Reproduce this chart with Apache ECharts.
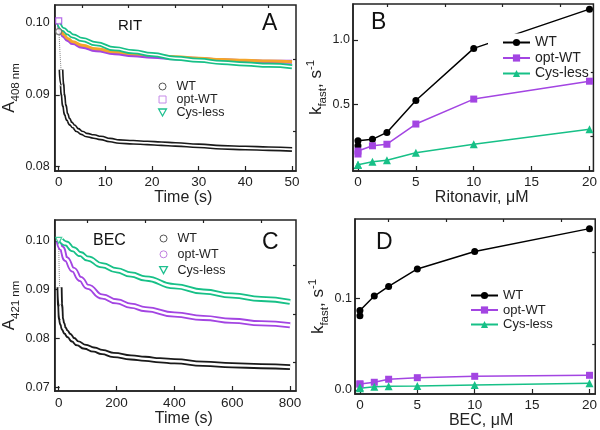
<!DOCTYPE html>
<html><head><meta charset="utf-8">
<script src="https://cdn.jsdelivr.net/npm/echarts@6/dist/echarts.min.js"></script>
<style>html,body{margin:0;padding:0;background:#fff}#c{width:600px;height:430px}</style>
</head><body><div id="c"></div>
<script>
// ---------- Panel A (RIT kinetics) ----------
const A_dot_t = [0, 0.15, 0.35, 0.5];
const A_dot_v = [0.1000, 0.0975, 0.0950, 0.0935];
const A_WT_t = [0.5, 0.7, 0.9, 1.2, 1.6, 2.0, 2.6, 3.2, 4.0, 5.0, 6.0, 7.5, 9.0, 11, 13, 16, 19, 22, 25, 30, 35, 40, 45, 50];
const A_WT_v = [0.0935, 0.0915, 0.0900, 0.0885, 0.0873, 0.0866, 0.0860, 0.0856, 0.0851, 0.0847, 0.0844, 0.0842, 0.0840, 0.0837, 0.0835, 0.0834, 0.0833, 0.0832, 0.0831, 0.0829, 0.0827, 0.0826, 0.0825, 0.0824];
const A_opt_t = [0, 0.5, 1, 2, 3, 5, 8, 12, 16, 20, 25, 30, 35, 40, 45, 50];
const A_opt_v = [0.1000, 0.0987, 0.0982, 0.0976, 0.0972, 0.0967, 0.0962, 0.0958, 0.0955, 0.0953, 0.0951, 0.0950, 0.0948, 0.0947, 0.0946, 0.0946];
const A_org_v = [0.1000, 0.0989, 0.0984, 0.0978, 0.0974, 0.0969, 0.0964, 0.0960, 0.0957, 0.0955, 0.0953, 0.0951, 0.0949, 0.0948, 0.0947, 0.0946];
const A_cys_t = [0, 1, 2, 3, 5, 8, 12, 16, 20, 25, 30, 35, 40, 45, 50];
const A_cys_v = [0.1000, 0.0991, 0.0986, 0.0982, 0.0977, 0.0971, 0.0964, 0.0960, 0.0956, 0.0951, 0.0948, 0.0945, 0.0943, 0.0941, 0.0939];
const A_start_WT = [[0, 0.0988]];
const A_start_opt = [[0, 0.1003]];
const A_x_major = [0, 10, 20, 30, 40, 50];
const A_x_minor = [5, 15, 25, 35, 45];
const A_y_major = [0.08, 0.09, 0.10];
const A_y_minor = [0.085, 0.095];

// ---------- Panel B (Ritonavir) ----------
const B_x = [0, 0, 1.25, 2.5, 5, 10, 20];
const B_WT = [0.178, 0.217, 0.228, 0.282, 0.53, 0.935, 1.24];
const B_opt = [0.114, 0.137, 0.178, 0.19, 0.347, 0.541, 0.68];
const B_cys = [0.031, 0.031, 0.054, 0.065, 0.124, 0.19, 0.306];
const B_x_major = [0, 5, 10, 15, 20];
const B_x_minor = [2.5, 7.5, 12.5, 17.5];
const B_y_labels = [0.5, 1.0];
const B_y_major = [0, 0.5, 1.0];
const B_y_minor = [0.25, 0.75];

// ---------- Panel C (BEC kinetics) ----------
const C_dot_t = [0, 1, 2, 3];
const C_dot_v = [0.1000, 0.0960, 0.0930, 0.0905];
const C_WT_t = [3, 5, 8, 12, 18, 25, 35, 50, 65, 90, 122, 150, 190, 250, 300, 350, 400, 500, 600, 700, 800];
const C_WT_v = [0.0905, 0.0868, 0.0840, 0.0830, 0.0820, 0.0813, 0.0806, 0.0797, 0.0790, 0.0783, 0.0777, 0.0772, 0.0766, 0.0761, 0.0758, 0.0755, 0.0753, 0.0748, 0.0745, 0.0743, 0.0741];
const C_opt_t = [0, 10, 25, 50, 75, 100, 150, 200, 250, 300, 400, 500, 600, 700, 800];
const C_opt_v = [0.1000, 0.0985, 0.0963, 0.0941, 0.0922, 0.0906, 0.0886, 0.0876, 0.0867, 0.0860, 0.0849, 0.0842, 0.0836, 0.0831, 0.0827];
const C_cys_t = [8, 25, 50, 75, 100, 150, 200, 250, 300, 400, 500, 600, 700, 800];
const C_cys_v = [0.1002, 0.0995, 0.0983, 0.0973, 0.0964, 0.0950, 0.0940, 0.0931, 0.0923, 0.0907, 0.0896, 0.0888, 0.0881, 0.0875];
const C_start_cys = [[0, 0.1001]];
const C_x_major = [0, 200, 400, 600, 800];
const C_x_minor = [100, 300, 500, 700];
const C_y_major = [0.07, 0.08, 0.09, 0.10];
const C_y_minor = [0.075, 0.085, 0.095];

// ---------- Panel D (BEC) ----------
const D_x = [0, 0, 1.25, 2.5, 5, 10, 20];
const D_WT = [0.081, 0.0866, 0.1025, 0.113, 0.132, 0.151, 0.176];
const D_opt = [0.0065, 0.0065, 0.0084, 0.0117, 0.0134, 0.0149, 0.016];
const D_cys = [0.0018, 0.003, 0.0036, 0.004, 0.0044, 0.0055, 0.0073];
const D_x_major = [0, 5, 10, 15, 20];
const D_x_minor = [2.5, 7.5, 12.5, 17.5];
const D_y_major = [0.0, 0.1];
const D_y_minor = [0.05, 0.15];

const pairs = (t, v) => t.map((x, i) => [x, v[i]]);
const FONT = '"Liberation Sans", Arial, Helvetica, sans-serif';
const AX = '#222';

const grids = [
  {left: 52, top: 5, width: 244, height: 166},
  {left: 353, top: 4, width: 243, height: 167},
  {left: 52, top: 220, width: 244, height: 171},
  {left: 355, top: 219, width: 241, height: 175}
].map(g => Object.assign(g, {show: true, borderColor: AX, borderWidth: 1.5, backgroundColor: 'transparent'}));

function majorAxis(gi, min, max, ticks, labels, fmt, o) {
  return {
    type: 'value', gridIndex: gi, min: min, max: max,
    axisLine: {show: true, onZero: false, lineStyle: {color: AX, width: 1.5}},
    axisTick: {show: true, inside: true, length: 5, customValues: ticks, lineStyle: {color: AX, width: 1.2}},
    axisLabel: {customValues: labels, formatter: fmt, margin: o.margin, fontSize: o.fontSize, color: AX, fontFamily: FONT},
    splitLine: {show: false},
    name: o.name, nameLocation: 'middle', nameGap: o.nameGap,
    nameTextStyle: Object.assign({fontSize: 16, color: AX, fontFamily: FONT}, o.nameStyle || {})
  };
}
function minorAxis(gi, min, max, ticks) {
  return {
    type: 'value', gridIndex: gi, min: min, max: max,
    axisLine: {show: false, onZero: false},
    axisTick: {show: true, inside: true, length: 3, customValues: ticks, lineStyle: {color: AX, width: 1.2}},
    axisLabel: {show: false}, splitLine: {show: false}
  };
}
const fInt = v => String(Math.round(v));
const f2 = v => v.toFixed(2);
const f1 = v => v.toFixed(1);

const subRich = {
  a: {fontSize: 17, lineHeight: 24, verticalAlign: 'middle', fontFamily: FONT, color: AX},
  s: {fontSize: 11.5, lineHeight: 11, verticalAlign: 'bottom', fontFamily: FONT, color: AX},
  p: {fontSize: 11.5, lineHeight: 11, verticalAlign: 'top', fontFamily: FONT, color: AX}
};

const xAxis = [
  majorAxis(0, -0.85, 50.85, A_x_major, A_x_major, fInt, {margin: 4, fontSize: 13.5, name: 'Time (s)', nameGap: 16, nameStyle: {padding: [0, 0, 0, 16]}}),
  majorAxis(1, -0.43, 20.34, B_x_major, B_x_major, fInt, {margin: 4, fontSize: 13.5, name: 'Ritonavir, \u03bcM', nameGap: 16, nameStyle: {padding: [0, 0, 0, 17]}}),
  majorAxis(2, -13.7, 820.5, C_x_major, C_x_major, fInt, {margin: 5, fontSize: 13.5, name: 'Time (s)', nameGap: 18, nameStyle: {padding: [0, 0, 0, 17]}}),
  majorAxis(3, -0.43, 20.5, D_x_major, D_x_major, fInt, {margin: 4, fontSize: 13.5, name: 'BEC, \u03bcM', nameGap: 15, nameStyle: {padding: [0, 0, 0, 12]}}),
  minorAxis(0, -0.85, 50.85, A_x_minor),
  minorAxis(1, -0.43, 20.34, B_x_minor),
  minorAxis(2, -13.7, 820.5, C_x_minor),
  minorAxis(3, -0.43, 20.5, D_x_minor)
];
const yAxis = [
  majorAxis(0, 0.0794, 0.1025, A_y_major, A_y_major, f2, {margin: 5, fontSize: 12.5, name: '{a|A}{s|408 nm}', nameGap: 31, nameStyle: {rich: subRich}}),
  majorAxis(1, -0.018, 1.28, B_y_major, B_y_labels, f1, {margin: 3, fontSize: 12.5, name: '{a|k}{s|fast}{a|, s}{p|-1}', nameGap: 20, nameStyle: {rich: subRich}}),
  majorAxis(2, 0.0692, 0.1043, C_y_major, C_y_major, f2, {margin: 5, fontSize: 12.5, name: '{a|A}{s|421 nm}', nameGap: 31, nameStyle: {rich: subRich}}),
  majorAxis(3, -0.0044, 0.1865, D_y_major, D_y_major, f1, {margin: 3, fontSize: 12.5, name: '{a|k}{s|fast}{a|, s}{p|-1}', nameGap: 22, nameStyle: {rich: subRich}}),
  minorAxis(0, 0.0794, 0.1025, A_y_minor),
  minorAxis(1, -0.018, 1.28, B_y_minor),
  minorAxis(2, 0.0692, 0.1043, C_y_minor),
  minorAxis(3, -0.0044, 0.1865, D_y_minor)
];

const K = '#1a1a1a', PUR = '#a345e2', GRN = '#17c087', ORG = '#f4a52a';

function band(name, gi, data, color, width) {
  return {name: name, type: 'line', xAxisIndex: gi, yAxisIndex: gi, data: data, showSymbol: false, symbol: 'none',
    smooth: 0.5, smoothMonotone: 'x', lineStyle: {color: color, width: width}, itemStyle: {color: color}, silent: true, animation: false};
}
function fit(gi, data, width) {
  return {type: 'line', xAxisIndex: gi, yAxisIndex: gi, data: data, showSymbol: false, symbol: 'none',
    smooth: 0.5, smoothMonotone: 'x', lineStyle: {color: '#fff', width: width}, silent: true, animation: false};
}
function dotted(gi, data) {
  return {type: 'line', xAxisIndex: gi, yAxisIndex: gi, data: data, showSymbol: false, symbol: 'none',
    lineStyle: {color: '#888', width: 1, type: 'dotted'}, silent: true, animation: false};
}
function marker(gi, data, symbol, color, rotate) {
  return {type: 'scatter', xAxisIndex: gi, yAxisIndex: gi, data: data, symbol: symbol, symbolSize: 6, symbolRotate: rotate || 0,
    itemStyle: {color: '#fff', borderColor: color, borderWidth: 1.2}, silent: true, animation: false, z: 3};
}
function pts(name, gi, xs, ys, color, symbol, size, z) {
  return {name: name, type: 'line', xAxisIndex: gi, yAxisIndex: gi, data: pairs(xs, ys), z: z || 2,
    symbol: symbol, symbolSize: size, showSymbol: true, showAllSymbol: true,
    lineStyle: {color: color, width: 1.5}, itemStyle: {color: color}, animation: false};
}

const series = [
  // A
  dotted(0, pairs(A_dot_t, A_dot_v)),
  band('WT_A', 0, pairs(A_WT_t, A_WT_v), K, 5),
  fit(0, pairs(A_WT_t, A_WT_v), 1.8),
  band('opt-WT_A', 0, pairs(A_opt_t, A_opt_v), PUR, 4),
  band('org_A', 0, pairs(A_opt_t, A_org_v), ORG, 3),
  band('Cys-less_A', 0, pairs(A_cys_t, A_cys_v), GRN, 5),
  fit(0, pairs(A_cys_t, A_cys_v), 1.5),
  marker(0, A_start_WT, 'circle', '#666'),
  marker(0, A_start_opt, 'rect', PUR),
  // B
  pts('WT_B', 1, B_x, B_WT, '#000', 'circle', 7),
  pts('opt-WT_B', 1, B_x, B_opt, PUR, 'rect', 7, 5),
  pts('Cys-less_B', 1, B_x, B_cys, GRN, 'triangle', 8),
  // C
  dotted(2, pairs(C_dot_t, C_dot_v)),
  band('WT_C', 2, pairs(C_WT_t, C_WT_v), K, 6),
  fit(2, pairs(C_WT_t, C_WT_v), 2.4),
  band('opt-WT_C', 2, pairs(C_opt_t, C_opt_v), PUR, 6),
  fit(2, pairs(C_opt_t, C_opt_v), 2.4),
  band('Cys-less_C', 2, pairs(C_cys_t, C_cys_v), GRN, 6),
  fit(2, pairs(C_cys_t, C_cys_v), 2.4),
  marker(2, C_start_cys, 'triangle', GRN, 180),
  // D
  pts('WT_D', 3, D_x, D_WT, '#000', 'circle', 7),
  pts('opt-WT_D', 3, D_x, D_opt, PUR, 'rect', 7),
  pts('Cys-less_D', 3, D_x, D_cys, GRN, 'triangle', 8)
];

const nameFmt = n => n.split('_')[0];
const legTxt = (fs, lh) => ({fontSize: fs, lineHeight: lh, color: AX, fontFamily: FONT});
const invTri = 'path://M0,0L10,0L5,9Z';
const square = 'path://M0,0L10,0L10,10L0,10Z';
const legend = [
  {left: 158, top: 80, orient: 'vertical', padding: 0, itemGap: 0, itemWidth: 18, itemHeight: 7,
   selectedMode: false, formatter: nameFmt, textStyle: legTxt(12.5, 11.5),
   data: [
     {name: 'WT_A', icon: 'circle', itemStyle: {color: '#fff', borderColor: '#555', borderWidth: 1}},
     {name: 'opt-WT_A', icon: square, itemStyle: {color: '#fff', borderColor: '#c68ae8', borderWidth: 1}},
     {name: 'Cys-less_A', icon: invTri, itemStyle: {color: '#fff', borderColor: '#20c090', borderWidth: 1.3}}
   ]},
  {left: 488, top: 33.5, orient: 'vertical', padding: [2, 2, 0, 14], backgroundColor: '#fff', itemGap: 1.5,
   itemWidth: 27, itemHeight: 9, selectedMode: false, formatter: nameFmt, textStyle: legTxt(14, 14),
   data: ['WT_B', 'opt-WT_B', 'Cys-less_B']},
  {left: 159, top: 232, orient: 'vertical', padding: 0, itemGap: 2.8, itemWidth: 18, itemHeight: 7,
   selectedMode: false, formatter: nameFmt, textStyle: legTxt(12.5, 13),
   data: [
     {name: 'WT_C', icon: 'circle', itemStyle: {color: '#fff', borderColor: '#555', borderWidth: 1}},
     {name: 'opt-WT_C', icon: 'circle', itemStyle: {color: '#fff', borderColor: '#c07fe0', borderWidth: 1}},
     {name: 'Cys-less_C', icon: invTri, itemStyle: {color: '#fff', borderColor: '#20c090', borderWidth: 1.3}}
   ]},
  {left: 470, top: 289, orient: 'vertical', padding: 0, backgroundColor: '#fff', itemGap: 1.5,
   itemWidth: 27, itemHeight: 9, selectedMode: false, formatter: nameFmt, textStyle: legTxt(13, 13),
   data: ['WT_D', 'opt-WT_D', 'Cys-less_D']}
];

const tStyle = fs => ({fontSize: fs, fontWeight: 'normal', color: '#111', fontFamily: FONT});
const title = [
  {text: 'A', left: 262, top: 12, padding: 0, textStyle: tStyle(23)},
  {text: 'B', left: 371, top: 11, padding: 0, textStyle: tStyle(23)},
  {text: 'C', left: 262, top: 231, padding: 0, textStyle: tStyle(23)},
  {text: 'D', left: 376, top: 231, padding: 0, textStyle: tStyle(23)},
  {text: 'RIT', left: 118, top: 18, padding: 0, textStyle: tStyle(15)},
  {text: 'BEC', left: 93, top: 233, padding: 0, textStyle: tStyle(16)}
];

const chart = echarts.init(document.getElementById('c'), null, {renderer: 'canvas'});
chart.setOption({animation: false, backgroundColor: '#fff', title, legend, grid: grids, xAxis, yAxis, series});
</script></body></html>
